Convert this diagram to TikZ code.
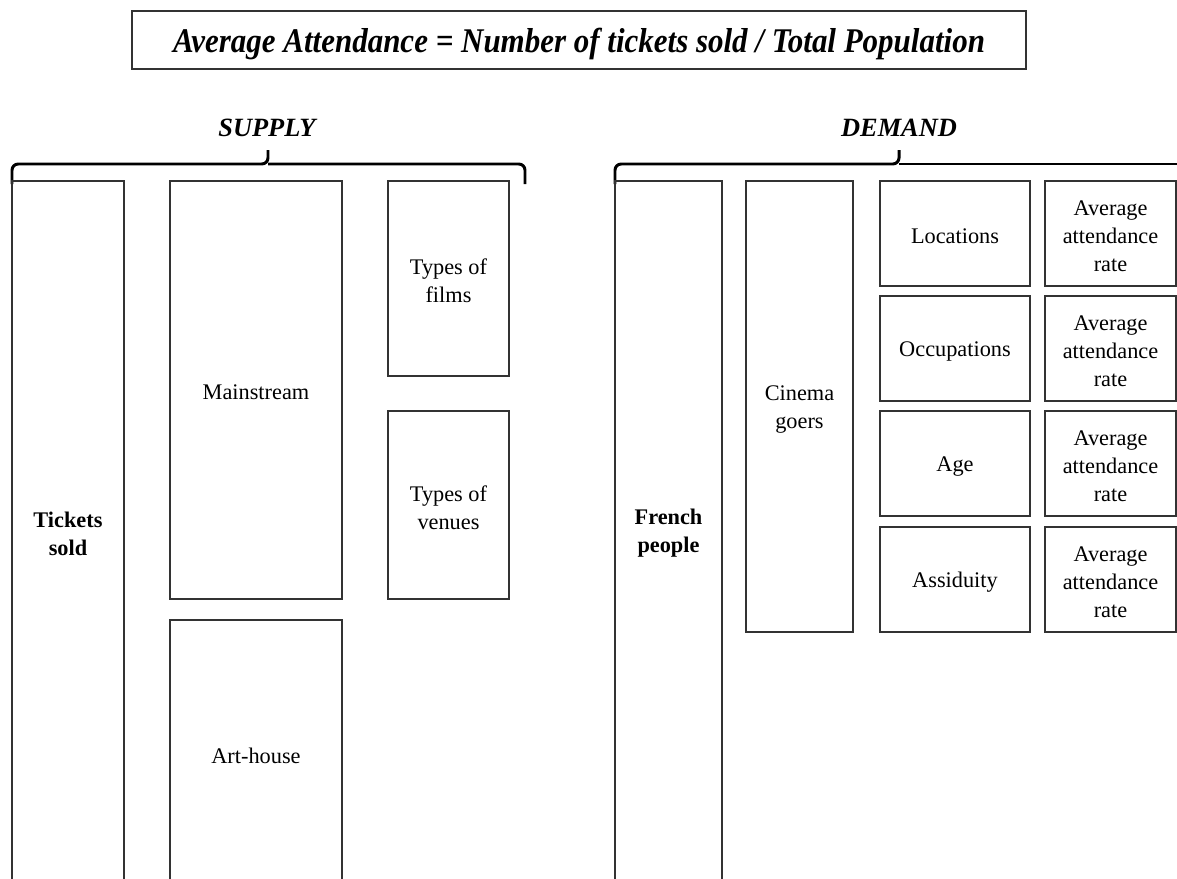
\documentclass[tikz,border=0pt]{standalone}
\usepackage{fontspec}
\setmainfont{Liberation Serif}
\newfontfamily\titlefont[FakeStretch=0.895]{Liberation Serif}
\usetikzlibrary{fit}
\begin{document}
\begin{tikzpicture}[x=0.02cm,y=-0.02cm,
  box/.style={draw=black!80, line width=0.8pt, inner sep=0pt},
  txt/.style={align=center, inner sep=0pt, yshift=-1.5pt, font=\fontsize{12.7}{15.9}\selectfont},
  boldtxt/.style={align=center, inner sep=0pt, font=\fontsize{12.7}{15.9}\selectfont\bfseries},
  brace/.style={draw=black, line width=1.7pt, rounded corners=3.5pt},
  head/.style={font=\fontsize{15}{18}\selectfont\bfseries\itshape, inner sep=0pt}]
\clip (0,0) rectangle (1177,879);
\fill[white] (0,0) rectangle (1177,879);
% title
\node[box, fit={(132,11) (1026,69)}] (title) {};
\node[inner sep=0pt, yshift=-2.3pt, font=\titlefont\fontsize{19.7}{22}\selectfont\bfseries\itshape] (titletext) at (title.center)
  {Average Attendance = Number of tickets sold / Total Population};
% headings
\node[head] (supply) at (267,128) {SUPPLY};
\node[head] (demand) at (899,128) {DEMAND};
% braces
\draw[brace] (12,184) -- (12,164) -- (268,164) -- (268,150);
\draw[brace] (268,164) -- (525,164) -- (525,184);
\draw[brace] (615,184) -- (615,164) -- (899,164) -- (899,150);
\draw[brace] (899,164) -- (1200,164);
% supply boxes
\node[box, fit={(12,181) (124,886)}] (tickets) {};
\node[boldtxt] (ticketst) at (tickets.center) {Tickets\\sold};
\node[box, fit={(170,181) (342,599)}] (mainstream) {};
\node[txt] (mainstreamt) at (mainstream.center) {Mainstream};
\node[box, fit={(170,620) (342,886)}] (arthouse) {};
\node[txt] (arthouset) at (arthouse.center) {Art-house};
\node[box, fit={(388,181) (509,376)}] (films) {};
\node[txt] (filmst) at (films.center) {Types of\\films};
\node[box, fit={(388,411) (509,599)}] (venues) {};
\node[txt] (venuest) at (venues.center) {Types of\\venues};
% demand boxes
\node[box, fit={(615,181) (722,886)}] (french) {};
\node[boldtxt] (frencht) at (french.center) {French\\people};
\node[box, fit={(746,181) (853,632)}] (goers) {};
\node[txt] (goerst) at (goers.center) {Cinema\\goers};
\node[box, fit={(880,181) (1030,286)}] (loc) {};
\node[txt] (loct) at (loc.center) {Locations};
\node[box, fit={(880,296) (1030,401)}] (occ) {};
\node[txt] (occt) at (occ.center) {Occupations};
\node[box, fit={(880,411) (1030,516)}] (age) {};
\node[txt] (aget) at (age.center) {Age};
\node[box, fit={(880,527) (1030,632)}] (assid) {};
\node[txt] (assidt) at (assid.center) {Assiduity};
\foreach \i/\ya/\yb in {1/181/286, 2/296/401, 3/411/516, 4/527/632}{
  \node[box, fit={(1045,\ya) (1176,\yb)}] (rate\i) {};
  \node[txt] (rate\i t) at (rate\i.center) {Average\\attendance\\rate};
}
\end{tikzpicture}
\end{document}
